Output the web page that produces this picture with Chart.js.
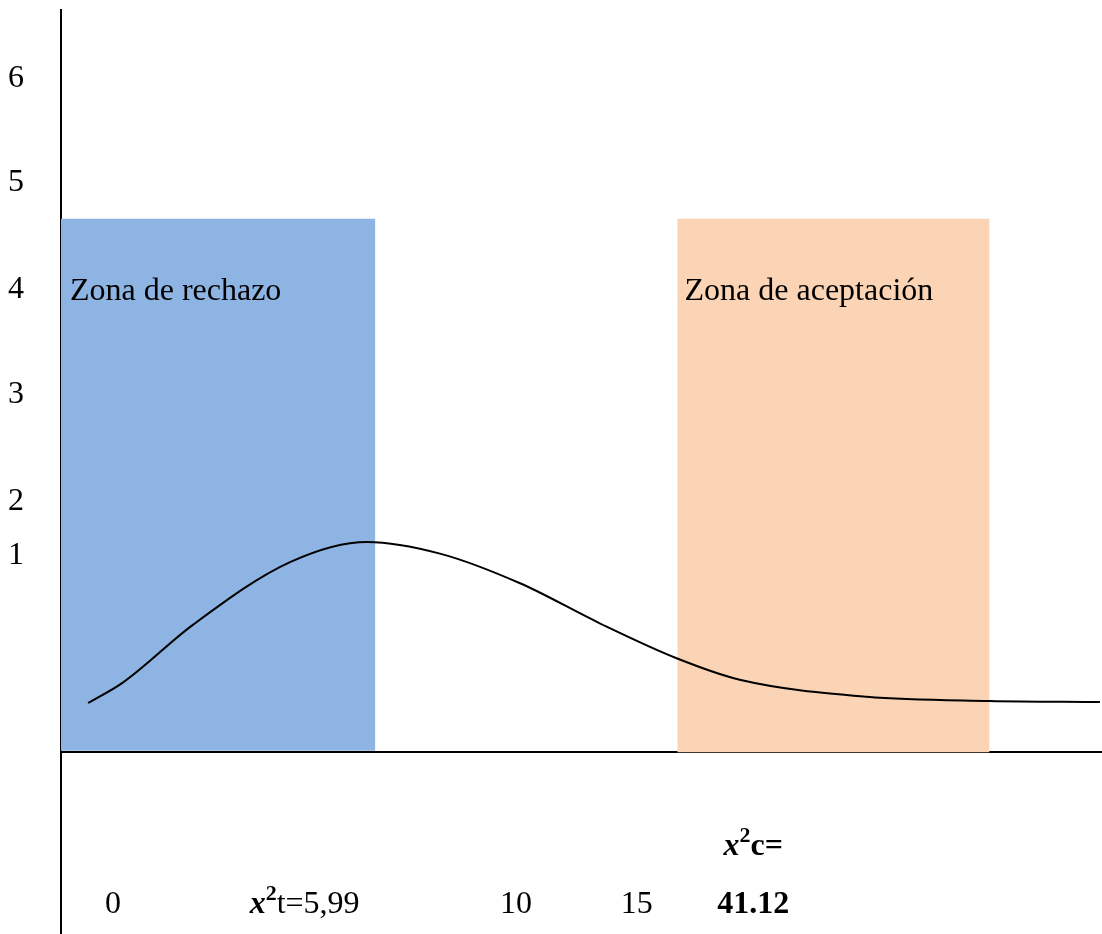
<!DOCTYPE html>
<html>
<head>
<meta charset="utf-8">
<script src="https://cdn.jsdelivr.net/npm/chart.js@4"></script>
<style>
  html, body { margin: 0; padding: 0; background: #fff; }
  canvas { display: block; }
</style>
</head>
<body>
<canvas id="c" width="1102" height="934"></canvas>
<script>
// ---- data ----
const xTickValues = [5.0, 23.4, 43.7, 55.3, 66.5];
const xTickLabels = ['0', 'x²t=5,99', '10', '15', 'x²c=\n41.12'];
const yTickValues = [1.85, 2.36, 3.37, 4.36, 5.37, 6.35];
const yTickLabels = ['1', '2', '3', '4', '5', '6'];

const curveX = [2.6, 5.9, 12.7, 22.0, 29.4, 36.4, 44.1, 51.8, 59.2, 65.2, 77.4, 89.2, 99.8];
const curveY = [0.46, 0.65, 1.20, 1.79, 1.98, 1.87, 1.59, 1.21, 0.88, 0.68, 0.52, 0.48, 0.47];

const zoneNames = ['Zona de rechazo', 'Zona de aceptación'];
const zoneStart = [0, 59.2];
const zoneEnd = [30.2, 89.2];
const zoneTop = [5.03, 5.03];

// ---- styles ----
const SERIF = '"Liberation Serif", "Times New Roman", serif';
const zoneColors = ['#8EB4E3', '#FAD4B4'];
const zoneFillTo = [0.01, -0.005];
const zoneLabelAnchor = [{dx: 0.86, y: 4.26}, {dx: 0.7, y: 4.26}];

const datasets = [];
zoneNames.forEach((name, i) => {
  datasets.push({
    label: name,
    data: [{x: zoneStart[i], y: zoneTop[i]}, {x: zoneEnd[i], y: zoneTop[i]}],
    showLine: true,
    borderWidth: 0,
    borderColor: 'rgba(0,0,0,0)',
    backgroundColor: zoneColors[i],
    fill: {value: zoneFillTo[i]},
    pointRadius: 0,
    order: 2
  });
});
datasets.push({
  label: 'curva',
  data: curveX.map((x, i) => ({x, y: curveY[i]})),
  showLine: true,
  borderColor: '#000',
  borderWidth: 2,
  fill: false,
  pointRadius: 0,
  cubicInterpolationMode: 'monotone',
  order: 1
});

function drawRich(ctx, cx, baseline, text, bold) {
  const runs = [];
  let rest = text;
  if (text.startsWith('x²')) {
    runs.push({t: 'x', f: 'italic bold 32px ' + SERIF, dy: 0});
    runs.push({t: '2', f: 'bold 22px ' + SERIF, dy: -13});
    rest = text.slice(2);
  }
  runs.push({t: rest, f: (bold ? 'bold ' : '') + '32px ' + SERIF, dy: 0});
  let w = 0;
  runs.forEach(r => { ctx.font = r.f; r.w = ctx.measureText(r.t).width; w += r.w; });
  let x = cx - w / 2;
  runs.forEach(r => { ctx.font = r.f; ctx.fillText(r.t, x, baseline + r.dy); x += r.w; });
}

const labelsPlugin = {
  id: 'labelsPlugin',
  afterDatasetsDraw(chart) {
    const ctx = chart.ctx;
    const xs = chart.scales.x, ys = chart.scales.y;
    ctx.save();
    ctx.fillStyle = '#000';
    ctx.textBaseline = 'alphabetic';
    ctx.textAlign = 'left';
    zoneNames.forEach((name, i) => {
      ctx.font = '32px ' + SERIF;
      ctx.fillText(name, xs.getPixelForValue(zoneStart[i] + zoneLabelAnchor[i].dx), ys.getPixelForValue(zoneLabelAnchor[i].y));
    });
    const axisY = ys.getPixelForValue(0);
    xTickValues.forEach((v, i) => {
      const px = xs.getPixelForValue(v);
      const lines = xTickLabels[i].split('\n');
      const bold = lines.length > 1;
      lines.forEach((ln, j) => {
        const base = axisY + 161 - (lines.length - 1 - j) * 58;
        drawRich(ctx, px, base, ln, bold);
      });
    });
    ctx.restore();
  }
};

new Chart(document.getElementById('c'), {
  type: 'scatter',
  data: {datasets},
  options: {
    responsive: false,
    animation: false,
    layout: {padding: {left: 8, top: 10, right: 0, bottom: 0}},
    plugins: {legend: {display: false}, tooltip: {enabled: false}},
    scales: {
      x: {
        type: 'linear', min: 0, max: 100,
        position: {y: 0},
        ticks: {display: false},
        grid: {display: false, drawTicks: false},
        border: {display: true, color: '#000', width: 2},
        z: 0
      },
      y: {
        type: 'linear', min: -1.72, max: 7,
        afterBuildTicks: s => { s.ticks = yTickValues.map(v => ({value: v})); },
        afterFit: s => { s.width = 53; s.paddingTop = 0; s.paddingBottom = 0; },
        ticks: {
          autoSkip: false,
          callback: v => yTickLabels[yTickValues.indexOf(v)],
          font: {family: SERIF, size: 32},
          color: '#000',
          crossAlign: 'far',
          padding: 0
        },
        grid: {display: false, drawTicks: false},
        border: {display: true, color: '#000', width: 2},
        z: 1
      }
    }
  },
  plugins: [labelsPlugin]
});
</script>
</body>
</html>
